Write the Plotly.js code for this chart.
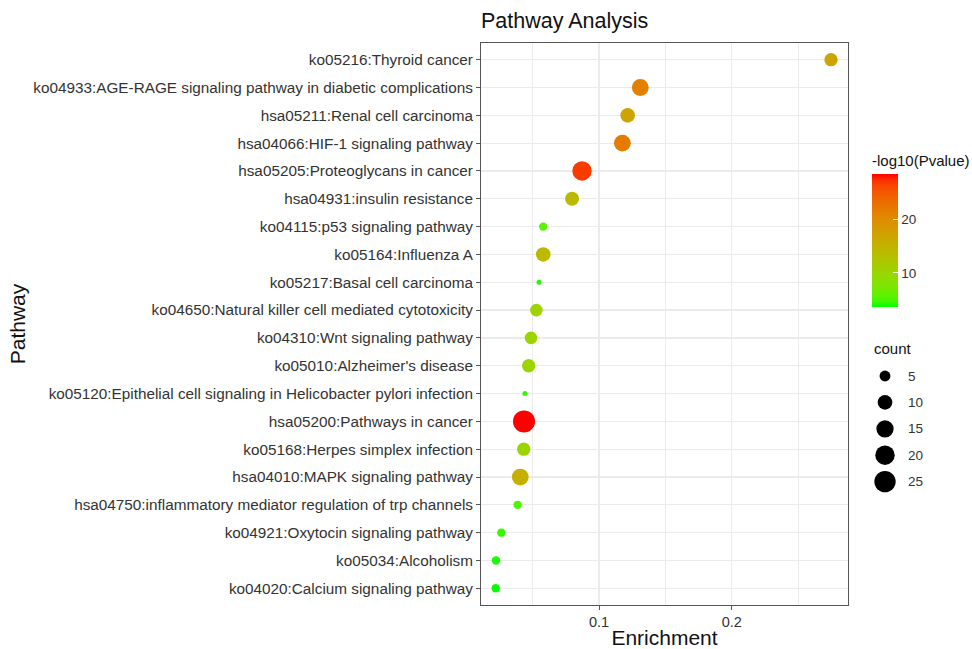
<!DOCTYPE html>
<html>
<head>
<meta charset="utf-8">
<script src="https://cdn.plot.ly/plotly-3.0.1.min.js"></script>
<style>html,body{margin:0;padding:0;background:#fff;}#chart{width:972px;height:649px;}</style>
</head>
<body>
<div id="chart"></div>
<script>
// ---- Data (top to bottom as drawn) ----
const pathways = [
  "ko05216:Thyroid cancer",
  "ko04933:AGE-RAGE signaling pathway in diabetic complications",
  "hsa05211:Renal cell carcinoma",
  "hsa04066:HIF-1 signaling pathway",
  "hsa05205:Proteoglycans in cancer",
  "hsa04931:insulin resistance",
  "ko04115:p53 signaling pathway",
  "ko05164:Influenza A",
  "ko05217:Basal cell carcinoma",
  "ko04650:Natural killer cell mediated cytotoxicity",
  "ko04310:Wnt signaling pathway",
  "ko05010:Alzheimer's disease",
  "ko05120:Epithelial cell signaling in Helicobacter pylori infection",
  "hsa05200:Pathways in cancer",
  "ko05168:Herpes simplex infection",
  "hsa04010:MAPK signaling pathway",
  "hsa04750:inflammatory mediator regulation of trp channels",
  "ko04921:Oxytocin signaling pathway",
  "ko05034:Alcoholism",
  "ko04020:Calcium signaling pathway"
];
const enrichment = [0.2748, 0.1311, 0.1216, 0.1176, 0.0872, 0.0797, 0.0580, 0.0580, 0.0548, 0.0528,
                    0.0488, 0.0470, 0.0442, 0.0435, 0.0433, 0.0407, 0.0387, 0.0264, 0.0224, 0.0222];
const counts = [8, 14, 10, 14, 20, 9, 3, 10, 2, 7,
                7, 8, 2, 27, 8, 14, 3, 3, 3, 3];
const negLog10P = [17.0, 21.3, 17.0, 21.8, 26.9, 14.0, 5.6, 14.0, 4.2, 10.6,
                   10.3, 10.3, 4.5, 28.6, 10.0, 15.4, 5.0, 4.5, 4.0, 3.6];
const countLegendLevels = [5, 10, 15, 20, 25];
const colorbarTicks = [10, 20];
const xTicks = [0.1, 0.2];
const xMinorTicks = [0.05, 0.15, 0.25];

// ---- helpers: ggplot-like Lab gradient green -> red ----
function srgbToLin(c){c/=255;return c<=0.04045?c/12.92:Math.pow((c+0.055)/1.055,2.4);}
function linToSrgb(c){c=c<=0.0031308?12.92*c:1.055*Math.pow(c,1/2.4)-0.055;return Math.max(0,Math.min(255,Math.round(c*255)));}
const Xn=0.95047,Yn=1,Zn=1.08883;
function f(t){return t>Math.pow(6/29,3)?Math.cbrt(t):t/(3*Math.pow(6/29,2))+4/29;}
function finv(t){return t>6/29?t*t*t:3*Math.pow(6/29,2)*(t-4/29);}
function rgb2lab(r,g,b){
  const R=srgbToLin(r),G=srgbToLin(g),B=srgbToLin(b);
  const X=0.4124*R+0.3576*G+0.1805*B, Y=0.2126*R+0.7152*G+0.0722*B, Z=0.0193*R+0.1192*G+0.9505*B;
  const fx=f(X/Xn),fy=f(Y/Yn),fz=f(Z/Zn);
  return [116*fy-16,500*(fx-fy),200*(fy-fz)];
}
function lab2rgb(L,a,b){
  const fy=(L+16)/116,fx=fy+a/500,fz=fy-b/200;
  const X=Xn*finv(fx),Y=Yn*finv(fy),Z=Zn*finv(fz);
  const R=3.2406*X-1.5372*Y-0.4986*Z, G=-0.9689*X+1.8758*Y+0.0415*Z, B=0.0557*X-0.2040*Y+1.0570*Z;
  return 'rgb('+linToSrgb(R)+','+linToSrgb(G)+','+linToSrgb(B)+')';
}
const lowLab=rgb2lab(0,255,0), highLab=rgb2lab(255,0,0);
const colorscale=[];
for(let i=0;i<=20;i++){
  const t=i/20;
  colorscale.push([t, lab2rgb(lowLab[0]+(highLab[0]-lowLab[0])*t, lowLab[1]+(highLab[1]-lowLab[1])*t, lowLab[2]+(highLab[2]-lowLab[2])*t)]);
}

// size scale (area-like, like ggplot scale_size)
const cMin=Math.min(...counts), cMax=Math.max(...counts);
const dMin=5, dMax=22;
function sizePx(c){const r=Math.max(0,(c-cMin)/(cMax-cMin));return dMin+(dMax-dMin)*Math.sqrt(r);}

const FONT="Liberation Sans, Arial, Helvetica, sans-serif";

const mainTrace={
  type:'scatter', mode:'markers',
  x:enrichment, y:pathways,
  xaxis:'x', yaxis:'y',
  marker:{
    size:counts.map(sizePx), sizemode:'diameter',
    color:negLog10P, colorscale:colorscale, showscale:true,
    line:{width:0}, opacity:1,
    colorbar:{
      x:(872-481)/491, xanchor:'left', xpad:0,
      y:(605-152)/562, yanchor:'top', ypad:0,
      len:155, lenmode:'pixels', thickness:26,
      outlinewidth:0,
      tickvals:colorbarTicks, ticks:'inside', tickcolor:'#ffffff', ticklen:5, tickwidth:1,
      tickfont:{family:FONT,size:13.5,color:'#333'},
      title:{text:'-log10(Pvalue)', side:'top', font:{family:FONT,size:15,color:'#111'}}
    }
  },
  showlegend:false, hoverinfo:'x+y'
};

const legendTrace={
  type:'scatter', mode:'markers',
  x:countLegendLevels.map(()=>25), y:countLegendLevels.map((v,i)=>i),
  xaxis:'x2', yaxis:'y2',
  marker:{size:countLegendLevels.map(sizePx), sizemode:'diameter', color:'#000000', opacity:1, line:{width:0}},
  showlegend:false, hoverinfo:'skip'
};

const annotations=countLegendLevels.map((v,i)=>({
  xref:'x2', yref:'y2', x:46, y:i, text:String(v), showarrow:false,
  xanchor:'left', yanchor:'middle', font:{family:FONT,size:13.5,color:'#333'}
}));
annotations.push({xref:'x2', yref:'y2', x:12, y:-1.06, text:'count', showarrow:false,
  xanchor:'left', yanchor:'middle', font:{family:FONT,size:15,color:'#111'}});

const layout={
  width:972, height:649,
  margin:{l:481, r:0, t:43, b:44},
  paper_bgcolor:'#fff', plot_bgcolor:'#fff',
  font:{family:FONT,color:'#333'},
  title:{text:'Pathway Analysis', x:0, xref:'paper', xanchor:'left', y:1-20/649, yref:'container', yanchor:'middle',
         font:{family:FONT,size:21.5,color:'#111'}},
  xaxis:{
    domain:[0,367/491], range:[0.0111,0.2876],
    tickvals:xTicks, ticktext:xTicks.map(String),
    showgrid:true, gridcolor:'#ebebeb', gridwidth:1.3,
    minor:{tickvals:xMinorTicks, showgrid:true, gridcolor:'#ebebeb', gridwidth:1.1, ticks:''},
    zeroline:false, showline:true, mirror:true, linecolor:'#555', linewidth:1,
    ticks:'outside', ticklen:4, tickcolor:'#555', tickwidth:1,
    tickfont:{family:FONT,size:14.5,color:'#333'},
    title:{text:'Enrichment', font:{family:FONT,size:21,color:'#111'}, standoff:2},
    automargin:false, fixedrange:true
  },
  yaxis:{
    type:'category', categoryorder:'array', categoryarray:pathways,
    range:[pathways.length-0.4, -0.6],
    showgrid:true, gridcolor:'#ebebeb', gridwidth:1.3,
    zeroline:false, showline:true, mirror:true, linecolor:'#555', linewidth:1,
    ticks:'outside', ticklen:4, tickcolor:'#555', tickwidth:1,
    tickfont:{family:FONT,size:15.3,color:'#333'},
    title:{text:'Pathway', font:{family:FONT,size:21,color:'#111'}, standoff:1},
    automargin:false, fixedrange:true
  },
  xaxis2:{domain:[(860-481)/491,(970-481)/491], range:[0,110], anchor:'y2', visible:false, fixedrange:true},
  yaxis2:{domain:[(605-500)/562,(605-335)/562], range:[(500-376)/26.4, -(376-335)/26.4], anchor:'x2', visible:false, fixedrange:true},
  annotations:annotations,
  showlegend:false
};

Plotly.newPlot('chart',[mainTrace,legendTrace],layout,{displayModeBar:false,staticPlot:true});
</script>
</body>
</html>
